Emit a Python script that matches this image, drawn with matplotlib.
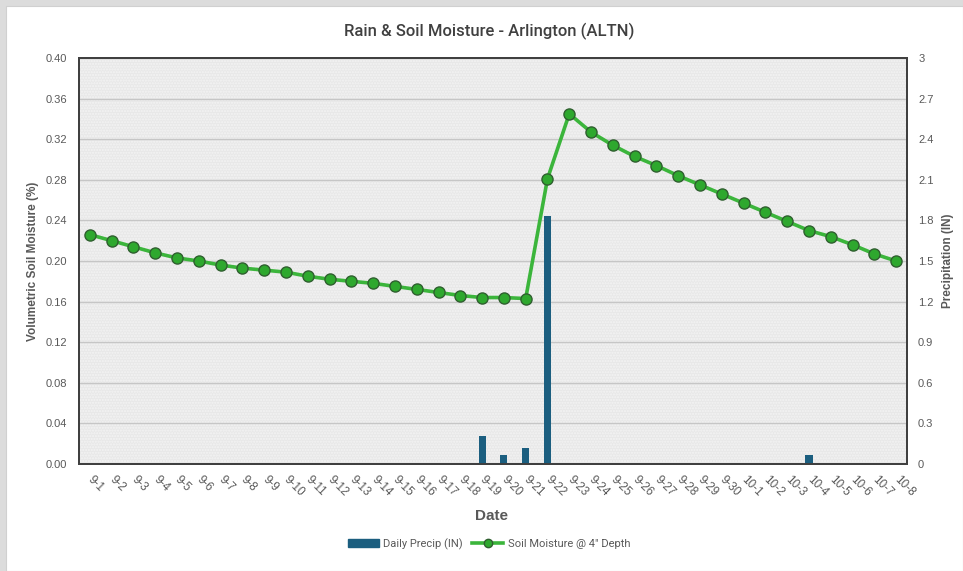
import matplotlib
matplotlib.use("Agg")
import matplotlib.pyplot as plt
from matplotlib.patches import Rectangle, Patch
from matplotlib.lines import Line2D

dates = ["9-1", "9-2", "9-3", "9-4", "9-5", "9-6", "9-7", "9-8", "9-9", "9-10",
         "9-11", "9-12", "9-13", "9-14", "9-15", "9-16", "9-17", "9-18", "9-19", "9-20",
         "9-21", "9-22", "9-23", "9-24", "9-25", "9-26", "9-27", "9-28", "9-29", "9-30",
         "10-1", "10-2", "10-3", "10-4", "10-5", "10-6", "10-7", "10-8"]

soil_moisture = [0.226, 0.220, 0.214, 0.208, 0.203, 0.200, 0.196, 0.193, 0.191, 0.189,
                 0.185, 0.182, 0.180, 0.178, 0.175, 0.172, 0.169, 0.166, 0.164, 0.164,
                 0.163, 0.281, 0.345, 0.327, 0.314, 0.303, 0.294, 0.284, 0.275, 0.266,
                 0.257, 0.248, 0.239, 0.230, 0.224, 0.216, 0.207, 0.200]

daily_precip = [0.0, 0.0, 0.0, 0.0, 0.01, 0.0, 0.0, 0.0, 0.0, 0.0,
                0.0, 0.0, 0.0, 0.0, 0.0, 0.0, 0.0, 0.0, 0.21, 0.07,
                0.12, 1.83, 0.0, 0.0, 0.0, 0.0, 0.0, 0.0, 0.0, 0.0,
                0.0, 0.0, 0.0, 0.07, 0.0, 0.0, 0.0, 0.0]

moisture_ticks = [0.00, 0.04, 0.08, 0.12, 0.16, 0.20, 0.24, 0.28, 0.32, 0.36, 0.40]
precip_ticks = [0, 0.3, 0.6, 0.9, 1.2, 1.5, 1.8, 2.1, 2.4, 2.7, 3]
precip_tick_labels = ["0", "0.3", "0.6", "0.9", "1.2", "1.5", "1.8", "2.1", "2.4", "2.7", "3"]

TEXT = "#595959"
TITLE = "#404040"
BAR = "#1b5e7f"
LINE = "#3bb53b"
MARKER = "#2ea82e"
cond = ["Roboto", "DejaVu Sans"]
plain = ["Liberation Sans", "DejaVu Sans"]

fig = plt.figure(figsize=(9.63, 5.71), dpi=100)
fig.patch.set_facecolor("#dcdcdc")
fig.add_artist(Rectangle((6 / 963, 0), 1 - 6 / 963, 1 - 6 / 571,
                         transform=fig.transFigure, facecolor="white",
                         edgecolor="#d0d0d0", linewidth=0.8, zorder=0))

left, right, top, bottom = 79 / 963, 907 / 963, 1 - 58 / 571, 1 - 464 / 571
ax2 = fig.add_axes([left, bottom, right - left, top - bottom])
ax = ax2.twinx()
ax.yaxis.tick_left()
ax.yaxis.set_label_position("left")
ax2.yaxis.tick_right()
ax2.yaxis.set_label_position("right")

x = list(range(len(dates)))

# precipitation bars on the back axes (right scale)
ax2.set_facecolor("#e8e8e8")
ax2.patch.set_hatch("......")
ax2.patch.set_edgecolor("#f4f4f4")
ax2.patch.set_linewidth(0)
ax2.bar(x, daily_precip, width=0.33, color=BAR, zorder=3)
ax2.set_ylim(0, 3)
ax2.set_yticks(precip_ticks)
ax2.set_yticklabels(precip_tick_labels)
ax2.yaxis.grid(True, color="#c6c6c6", linewidth=1.0, zorder=1)
ax2.set_axisbelow(True)

# soil moisture line on the front axes (left scale)
ax.plot(x, soil_moisture, color=LINE, linewidth=2.6, marker="o", markersize=8,
        markerfacecolor=MARKER, markeredgecolor="#2f5f2f", markeredgewidth=1.0, zorder=4)
ax.set_ylim(0, 0.40)
ax.set_yticks(moisture_ticks)
ax.set_yticklabels([f"{v:.2f}" for v in moisture_ticks])

ax2.set_xlim(-0.5, len(dates) - 0.5)
ax2.set_xticks(x)
ax2.set_xticklabels(dates, rotation=-45, ha="left", va="center",
                    rotation_mode="anchor")

for a in (ax, ax2):
    for s in a.spines.values():
        s.set_color("#404040")
        s.set_linewidth(1.4)
    a.tick_params(axis="both", length=0, labelsize=8, labelcolor=TEXT)
    for lab in a.get_yticklabels() + a.get_xticklabels():
        lab.set_family(plain)

ax.tick_params(axis="y", pad=8.5)
ax2.tick_params(axis="y", pad=8)
ax2.tick_params(axis="x", pad=10, labelsize=8.5)
ax.tick_params(axis="x", labelbottom=False)

ax.set_ylabel("Volumetric Soil Moisture (%)", fontsize=8.5, fontweight="bold",
              color=TEXT, family=plain, labelpad=5)
ax2.set_ylabel("Precipitation (IN)", fontsize=8.5, fontweight="bold",
               color=TEXT, family=plain, labelpad=6, rotation=90)
ax2.set_xlabel("Date", fontsize=11, fontweight="bold", color=TEXT, family=plain)
ax2.xaxis.set_label_coords((491 - 79) / 828, (464 - 509) / 406)

fig.text(489 / 963, 1 - 31 / 571, "Rain & Soil Moisture - Arlington (ALTN)",
         ha="center", va="center", fontsize=12, fontweight="medium", color=TITLE,
         family=cond)

handles = [Patch(facecolor=BAR, edgecolor=BAR),
           Line2D([0], [0], color=LINE, linewidth=2.6, marker="o", markersize=6,
                  markerfacecolor=MARKER, markeredgecolor="#2f5f2f")]
fig.legend(handles, ["Daily Precip (IN)", "Soil Moisture @ 4\" Depth"],
           loc="center", bbox_to_anchor=(489 / 963, 1 - 544 / 571), ncol=2,
           frameon=False, prop={"family": cond, "size": 8}, labelcolor=TEXT,
           handlelength=2.8, handleheight=0.7, columnspacing=0.8, handletextpad=0.4)

fig.savefig("out.png", dpi=100, facecolor=fig.get_facecolor())
